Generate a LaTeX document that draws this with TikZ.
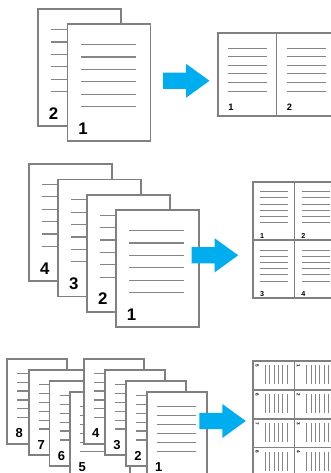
\documentclass[tikz,border=0pt]{standalone}
\usepackage{fontspec}
\setmainfont{Liberation Sans}
\definecolor{pagegray}{HTML}{808080}
\definecolor{linegray}{HTML}{858585}
\definecolor{arrowblue}{HTML}{00AEEF}
\tikzset{
  pagebox/.style={draw=pagegray, fill=white, line width=1.7pt},
  txtline/.style={draw=linegray, line width=1.2pt},
  smline/.style={draw=linegray, line width=0.9pt},
  biglabel/.style={inner sep=0pt, font=\fontsize{16.8}{17}\selectfont\bfseries},
  midlabel/.style={inner sep=0pt, font=\fontsize{13}{13}\selectfont\bfseries},
  cellA/.style={inner sep=0pt, font=\fontsize{9.3}{9.3}\selectfont\bfseries},
  cellB/.style={inner sep=0pt, font=\fontsize{7.2}{7.2}\selectfont\bfseries},
  cellC/.style={inner sep=0pt, rotate=-90, font=\fontsize{4.6}{4.6}\selectfont\bfseries},
  divider/.style={draw=pagegray, line width=1.4pt},
  arrowshape/.style={fill=arrowblue, draw=none}
}
\newcommand\bigpage[4]{% x, y, label, name
  \begin{scope}[shift={(#1,#2)}]
    \filldraw[pagebox] (0,0) rectangle (83,117);
    \foreach \i in {0,...,5} \draw[txtline] (13,20.3+12.4*\i) -- (68,20.3+12.4*\i);
    \node[biglabel] (#4) at (15.5,104.3) {#3};
  \end{scope}}
\newcommand\smallpage[4]{% x, y, label, name
  \begin{scope}[shift={(#1,#2)}]
    \filldraw[pagebox] (0,0) rectangle (60,85);
    \foreach \i in {0,...,5} \draw[txtline] (10,14.5+8.9*\i) -- (49,14.5+8.9*\i);
    \node[midlabel] (#4) at (12,74.8) {#3};
  \end{scope}}
\newcommand\bluearrow[3]{% x, ycenter, name
  \fill[arrowshape] (#1,#2-8.1) -- (#1+23,#2-8.1) -- (#1+23,#2-17) -- (#1+46.5,#2)
    -- (#1+23,#2+17) -- (#1+23,#2+8.1) -- (#1,#2+8.1) -- cycle;
  \coordinate (#3) at (#1+23,#2);}
\newcommand\cellA[4]{% x, y, label, name
  \begin{scope}[shift={(#1,#2)}]
    \foreach \i in {0,...,5} \draw[smline] (10,14.7+8.6*\i) -- (49,14.7+8.6*\i);
    \node[cellA] (#4) at (12.7,74.4) {#3};
  \end{scope}}
\newcommand\cellB[4]{% x, y, label, name
  \begin{scope}[shift={(#1,#2)}]
    \foreach \i in {0,...,5} \draw[smline] (7,10+6.2*\i) -- (35,10+6.2*\i);
    \node[cellB] (#4) at (8.7,54) {#3};
  \end{scope}}
\newcommand\cellC[4]{% x, y, label, name
  \begin{scope}[shift={(#1,#2)}]
    \foreach \i in {0,...,5} \draw[smline] (12+4.4*\i,4) -- (12+4.4*\i,23);
    \node[cellC] (#4) at (3.8,4.3) {#3};
  \end{scope}}
\begin{document}
\begin{tikzpicture}[x=1pt,y=-1pt]
\clip (0,0) rectangle (331,473);
\fill[white] (0,0) rectangle (331,473);
% ---------- row 1 ----------
\bigpage{38}{9.3}{2}{ra2}
\bigpage{67.5}{24.3}{1}{ra1}
\bluearrow{163}{80.8}{arrA}
\cellA{218.3}{33.3}{1}{ca1}
\cellA{276.7}{33.3}{2}{ca2}
\draw[divider] (276.7,33.3) -- (276.7,116);
\draw[pagebox, fill=none] (218.3,33.3) rectangle (336,116);
% ---------- row 2 ----------
\bigpage{29.3}{164}{4}{rb4}
\bigpage{58.3}{179.4}{3}{rb3}
\bigpage{87.2}{194.8}{2}{rb2}
\bigpage{116}{210.2}{1}{rb1}
\bluearrow{191.7}{255.3}{arrB}
\cellB{253.3}{181.7}{1}{cb1}
\cellB{294.7}{181.7}{2}{cb2}
\cellB{253.3}{240}{3}{cb3}
\cellB{294.7}{240}{4}{cb4}
\draw[divider] (294.7,181.7) -- (294.7,298.3);
\draw[divider] (253.3,240) -- (336,240);
\draw[pagebox, fill=none] (253.3,181.7) rectangle (336,298.3);
% ---------- row 3 ----------
\smallpage{7.3}{358.7}{8}{rc8}
\smallpage{29.3}{370}{7}{rc7}
\smallpage{49.6}{380.9}{6}{rc6}
\smallpage{70.3}{392.3}{5}{rc5}
\smallpage{83.7}{358.7}{4}{rc4}
\smallpage{105}{370}{3}{rc3}
\smallpage{126}{380.9}{2}{rc2}
\smallpage{146.7}{392.3}{1}{rc1}
\bluearrow{199.3}{421}{arrC}
\cellC{253.3}{361}{5}{cc5}
\cellC{253.3}{390}{6}{cc6}
\cellC{253.3}{419}{7}{cc7}
\cellC{253.3}{447.7}{8}{cc8}
\cellC{294.7}{361}{1}{cc1}
\cellC{294.7}{390}{2}{cc2}
\cellC{294.7}{419}{3}{cc3}
\cellC{294.7}{447.7}{4}{cc4}
\draw[divider] (294.7,361) -- (294.7,480);
\draw[divider] (253.3,390) -- (336,390);
\draw[divider] (253.3,419) -- (336,419);
\draw[divider] (253.3,447.7) -- (336,447.7);
\draw[pagebox, fill=none] (253.3,361) rectangle (336,480);
\end{tikzpicture}
\end{document}
